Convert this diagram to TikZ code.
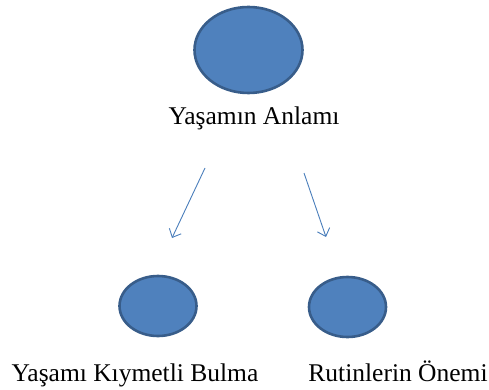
\documentclass[tikz,border=0pt]{standalone}
\usepackage{fontspec}
\setmainfont{Liberation Serif}
\usetikzlibrary{arrows.meta,shapes.geometric}
\definecolor{ofill}{HTML}{4F81BD}
\definecolor{oline}{HTML}{385D8A}
\definecolor{oarrow}{HTML}{4A7EBB}

\begin{document}
\begin{tikzpicture}[x=1pt, y=-1pt,
  blob/.style = {ellipse, draw=oline, fill=ofill, line width=2.6pt,
                 inner sep=0pt},
  lbl/.style  = {inner sep=0pt, anchor=base,
                 font=\fontsize{25.5}{30}\selectfont},
  arr/.style  = {-{Straight Barb[length=7pt, width=13pt]},
                 line width=0.9pt, color=oarrow}
]
\useasboundingbox (0,0) rectangle (489,390);
% circles
\node[blob, minimum width=108pt, minimum height=86pt] (top)   at (248.5, 50) {};
\node[blob, minimum width=77pt,  minimum height=60pt] (left)  at (158, 306)  {};
\node[blob, minimum width=77pt,  minimum height=60pt] (right) at (347.5, 307) {};
% labels
\node[lbl] (ttop)   at (254, 125) {Yaşamın Anlamı};
\node[lbl] (tleft)  at (135, 381) {Yaşamı Kıymetli Bulma};
\node[lbl] (tright) at (398, 381) {Rutinlerin Önemi};
% arrows
\coordinate (a1) at (205, 168);
\coordinate (b1) at (172, 238);
\coordinate (a2) at (304, 173);
\coordinate (b2) at (326, 237);
\draw[arr] (a1) -- (b1);
\draw[arr] (a2) -- (b2);
\end{tikzpicture}
\end{document}
